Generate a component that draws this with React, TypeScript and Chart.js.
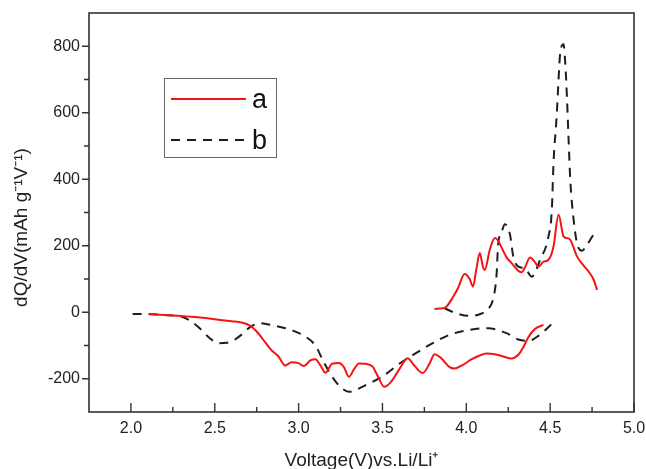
import React, { useEffect, useRef } from 'react';
import { Chart, registerables } from 'chart.js';

Chart.register(...registerables);

// ---- Data ----
const aDischargeV = [2.11, 2.2, 2.3, 2.4, 2.5, 2.6, 2.66, 2.71, 2.75, 2.8, 2.84, 2.88, 2.92, 2.96, 3.0, 3.03, 3.07, 3.1, 3.13, 3.16, 3.2, 3.24, 3.27, 3.3, 3.33, 3.36, 3.4, 3.44, 3.47, 3.51, 3.55, 3.6, 3.65, 3.69, 3.74, 3.78, 3.81, 3.85, 3.9, 3.93, 3.98, 4.03, 4.08, 4.12, 4.17, 4.22, 4.27, 4.31, 4.34, 4.37, 4.41, 4.46];
const aDischargeQ = [-6, -8, -11, -15, -21, -27, -31, -40, -58, -90, -115, -133, -160, -150, -153, -162, -145, -141, -160, -182, -155, -153, -165, -194, -172, -154, -155, -163, -190, -224, -210, -172, -138, -160, -183, -155, -126, -138, -165, -169, -158, -142, -130, -124, -126, -133, -139, -128, -105, -75, -50, -38];

const aChargeV = [3.81, 3.86, 3.88, 3.92, 3.95, 3.99, 4.02, 4.04, 4.06, 4.08, 4.1, 4.11, 4.14, 4.17, 4.19, 4.21, 4.24, 4.27, 4.31, 4.33, 4.35, 4.38, 4.41, 4.43, 4.46, 4.49, 4.52, 4.55, 4.58, 4.6, 4.62, 4.66, 4.7, 4.74, 4.76, 4.78];
const aChargeQ = [10, 12, 16, 45, 72, 115, 100, 77, 130, 178, 135, 127, 188, 223, 215, 195, 165, 148, 125, 120, 135, 165, 150, 137, 152, 158, 198, 293, 228, 223, 218, 168, 140, 115, 97, 67];

const bDischargeV = [2.01, 2.1, 2.19, 2.3, 2.36, 2.41, 2.47, 2.52, 2.57, 2.62, 2.67, 2.71, 2.77, 2.85, 2.92, 2.97, 3.04, 3.1, 3.15, 3.2, 3.25, 3.3, 3.4, 3.5, 3.6, 3.68, 3.8, 3.9, 4.02, 4.13, 4.24, 4.31, 4.37, 4.43, 4.53];
const bDischargeQ = [-5, -5, -8, -13, -28, -48, -78, -93, -92, -82, -63, -45, -33, -40, -48, -56, -73, -100, -150, -194, -225, -239, -219, -193, -155, -129, -93, -68, -53, -48, -63, -82, -86, -71, -25];

const bChargeV = [3.87, 3.94, 4.02, 4.08, 4.13, 4.16, 4.18, 4.19, 4.21, 4.23, 4.26, 4.28, 4.31, 4.35, 4.39, 4.44, 4.49, 4.51, 4.52, 4.54, 4.55, 4.56, 4.58, 4.59, 4.6, 4.61, 4.62, 4.64, 4.66, 4.69, 4.72, 4.76];
const bChargeQ = [12, -3, -11, -6, 10, 40, 110, 205, 240, 265, 235, 168, 137, 132, 107, 158, 228, 308, 449, 599, 700, 780, 806, 750, 649, 519, 398, 278, 208, 185, 203, 235];

const xTickValues = [2.0, 2.5, 3.0, 3.5, 4.0, 4.5, 5.0];
const yTickValues = [-200, 0, 200, 400, 600, 800];
const seriesLabels = ['a', 'b'];
const xAxisTitle = 'Voltage(V)vs.Li/Li\u207A';
const yAxisTitle = 'dQ/dV(mAh g\u207B\u00B9V\u207B\u00B9)';

const FONT = '"Liberation Sans", Arial, Helvetica, sans-serif';
const RED = '#f51414';
const BLACK = '#1e1e1e';
const AXIS = '#333333';

const toPoints = (xs: number[], ys: number[]) => xs.map((x, i) => ({ x, y: ys[i] }));

const decorPlugin = {
  id: 'decor',
  afterDraw(chart: any) {
    const { ctx, chartArea: ca } = chart;
    const xs = chart.scales.x;
    const ys = chart.scales.y;
    ctx.save();

    // frame
    ctx.strokeStyle = AXIS;
    ctx.lineWidth = 1.6;
    ctx.strokeRect(ca.left, ca.top, ca.right - ca.left, ca.bottom - ca.top);

    // x ticks (inward)
    ctx.lineWidth = 1.4;
    ctx.beginPath();
    const xStep = (xTickValues[1] - xTickValues[0]) / 2;
    for (let v = xs.min; v <= xs.max + 1e-9; v += xStep) {
      const isMajor = xTickValues.some((t) => Math.abs(t - v) < 1e-6);
      if (!isMajor && (Math.abs(v - xs.min) < 1e-6 || Math.abs(v - xs.max) < 1e-6)) continue;
      const px = xs.getPixelForValue(v);
      ctx.moveTo(px, ca.bottom);
      ctx.lineTo(px, ca.bottom - (isMajor ? 9 : 5));
    }
    // y ticks (outward)
    const yStep = (yTickValues[1] - yTickValues[0]) / 2;
    for (let v = ys.min; v <= ys.max + 1e-9; v += yStep) {
      const isMajor = yTickValues.some((t) => Math.abs(t - v) < 1e-6);
      if (!isMajor && (Math.abs(v - ys.min) < 1e-6 || Math.abs(v - ys.max) < 1e-6)) continue;
      const py = ys.getPixelForValue(v);
      ctx.moveTo(ca.left, py);
      ctx.lineTo(ca.left - (isMajor ? 7 : 5), py);
    }
    ctx.stroke();

    // y axis title
    ctx.fillStyle = '#222';
    ctx.font = `19px ${FONT}`;
    ctx.textAlign = 'center';
    ctx.textBaseline = 'middle';
    ctx.translate(22, (ca.top + ca.bottom) / 2 + 15);
    ctx.rotate(-Math.PI / 2);
    ctx.fillText(yAxisTitle, 0, 0);
    ctx.setTransform(1, 0, 0, 1, 0, 0);

    // legend
    const bx = ca.left + 75;
    const by = ca.top + 65;
    const bw = 112;
    const bh = 79;
    ctx.strokeStyle = '#666';
    ctx.lineWidth = 1;
    ctx.strokeRect(bx + 0.5, by + 0.5, bw, bh);
    const rows = [
      { y: by + 21, ds: chart.data.datasets[0] },
      { y: by + 62, ds: chart.data.datasets[2] },
    ];
    rows.forEach((r) => {
      ctx.strokeStyle = r.ds.borderColor;
      ctx.lineWidth = r.ds.borderWidth;
      ctx.setLineDash(r.ds.borderDash || []);
      ctx.beginPath();
      ctx.moveTo(bx + 7, r.y);
      ctx.lineTo(bx + 82, r.y);
      ctx.stroke();
      ctx.setLineDash([]);
      ctx.fillStyle = '#111';
      ctx.font = `27px ${FONT}`;
      ctx.textAlign = 'left';
      ctx.textBaseline = 'middle';
      ctx.fillText(r.ds.label, bx + 88, r.y + 1.5);
    });
    ctx.restore();
  },
};

export default function App() {
  const ref = useRef<HTMLCanvasElement | null>(null);

  useEffect(() => {
    if (!ref.current) return;
    const common = { pointRadius: 0, borderWidth: 2, fill: false, cubicInterpolationMode: 'monotone' as const };
    const chart = new Chart(ref.current, {
      type: 'line',
      data: {
        datasets: [
          { ...common, label: seriesLabels[0], data: toPoints(aDischargeV, aDischargeQ), borderColor: RED },
          { ...common, label: seriesLabels[0], data: toPoints(aChargeV, aChargeQ), borderColor: RED },
          { ...common, label: seriesLabels[1], data: toPoints(bDischargeV, bDischargeQ), borderColor: BLACK, borderDash: [9, 7] },
          { ...common, label: seriesLabels[1], data: toPoints(bChargeV, bChargeQ), borderColor: BLACK, borderDash: [9, 7] },
        ],
      },
      options: {
        animation: false,
        responsive: true,
        maintainAspectRatio: false,
        devicePixelRatio: 1,
        layout: { padding: { top: 13, right: 12, left: 0, bottom: 0 } },
        plugins: { legend: { display: false }, tooltip: { enabled: false } },
        scales: {
          x: {
            type: 'linear',
            min: 1.75,
            max: 5.0,
            afterBuildTicks: (s: any) => {
              s.ticks = xTickValues.map((v) => ({ value: v }));
            },
            afterFit: (s: any) => {
              s.height = 57;
              s.paddingLeft = 0;
              s.paddingRight = 0;
            },
            grid: { display: false, drawTicks: false },
            border: { display: false },
            ticks: {
              callback: (v: any) => Number(v).toFixed(1),
              font: { family: FONT, size: 16 },
              color: '#222',
              padding: 7,
              maxRotation: 0,
              autoSkip: false,
            },
            title: {
              display: true,
              text: xAxisTitle,
              font: { family: FONT, size: 19 },
              color: '#222',
              padding: { top: 0, bottom: -3 },
            },
          },
          y: {
            type: 'linear',
            min: -300,
            max: 900,
            afterBuildTicks: (s: any) => {
              s.ticks = yTickValues.map((v) => ({ value: v }));
            },
            afterFit: (s: any) => {
              s.width = 89;
              s.paddingTop = 0;
              s.paddingBottom = 0;
            },
            grid: { display: false, drawTicks: false },
            border: { display: false },
            ticks: {
              callback: (v: any) => String(v),
              font: { family: FONT, size: 16 },
              color: '#222',
              padding: 9,
              autoSkip: false,
            },
            title: { display: false },
          },
        },
      },
      plugins: [decorPlugin],
    } as any);
    return () => chart.destroy();
  }, []);

  return (
    <div style={{ position: 'absolute', left: 0, top: 0, width: 646, height: 469, background: '#fff' }}>
      <canvas ref={ref} />
    </div>
  );
}
